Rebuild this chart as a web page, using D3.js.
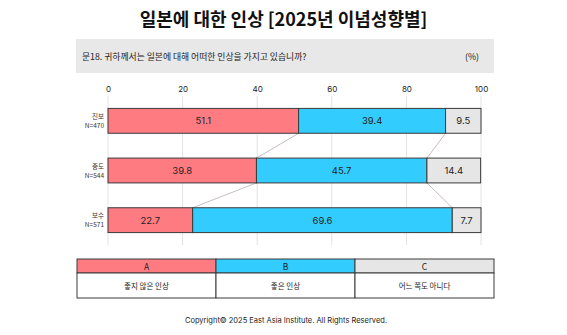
<!DOCTYPE html>
<html><head><meta charset="utf-8">
<script src="https://cdn.jsdelivr.net/npm/d3@7"></script>
<style>body{margin:0;background:#fff}svg{display:block}text{font-family:"Noto Sans CJK KR","Noto Sans",sans-serif}</style>
</head><body><svg id="c" width="567" height="335"></svg>
<script>
const groups = ["진보", "중도", "보수"];
const groupN = ["N=470", "N=544", "N=571"];
const seriesKeys = ["A", "B", "C"];
const seriesNames = ["좋지 않은 인상", "좋은 인상", "어느 쪽도 아니다"];
const seriesColors = ["#FF7B82", "#33CCFF", "#E6E6E6"];
const valA = [51.1, 39.8, 22.7];
const valB = [39.4, 45.7, 69.6];
const valC = [9.5, 14.4, 7.7];
const ticks = [0, 20, 40, 60, 80, 100];

const svg = d3.select("#c");
svg.append("text").attr("x", 283.5).attr("y", 26).attr("text-anchor", "middle")
  .attr("font-size", 18).attr("font-weight", 600).attr("fill", "#111")
  .text("일본에 대한 인상 [2025년 이념성향별]");
svg.append("rect").attr("x", 76).attr("y", 39).attr("width", 418).attr("height", 34).attr("fill", "#E8E8E8");
svg.append("text").attr("x", 82).attr("y", 59.5).attr("font-size", 8.8).attr("fill", "#222")
  .text("문18. 귀하께서는 일본에 대해 어떠한 인상을 가지고 있습니까?");
svg.append("text").attr("x", 479).attr("y", 59.5).attr("text-anchor", "end").attr("font-size", 8.8).attr("fill", "#222").text("(%)");

const x = d3.scaleLinear().domain([0, 100]).range([108, 481]);
const y = d3.scaleBand().domain(groups).range([96, 245]).paddingInner(0.5).paddingOuter(0.25);

const ax = svg.append("g").attr("transform", "translate(0,92)")
  .call(d3.axisTop(x).tickValues(ticks).tickSize(0).tickPadding(0));
ax.select(".domain").remove();
ax.selectAll("text").attr("font-size", 8).attr("fill", "#222").attr("dy", 0)
  .style("font-family", "Inter, 'Noto Sans', sans-serif");
svg.append("g").selectAll("line").data(ticks).join("line")
  .attr("x1", d => x(d)).attr("x2", d => x(d)).attr("y1", 96).attr("y2", 245)
  .attr("stroke", "#E3E3E3").attr("stroke-width", 1);

const rows = groups.map((g, i) => {
  const vals = [valA[i], valB[i], valC[i]];
  let c = 0;
  return vals.map((v, j) => { const s = {g, i, j, v, x0: c, x1: c + v}; c += v; return s; });
});

// connectors
const conn = svg.append("g");
for (let i = 0; i < groups.length - 1; i++) {
  for (let j = 0; j < 2; j++) {
    conn.append("line")
      .attr("x1", x(rows[i][j].x1)).attr("y1", y(groups[i]) + y.bandwidth())
      .attr("x2", x(rows[i + 1][j].x1)).attr("y2", y(groups[i + 1]))
      .attr("stroke", "#C8BCC4").attr("stroke-width", 1);
  }
}

const segs = rows.flat();
svg.append("g").selectAll("rect").data(segs).join("rect")
  .attr("x", d => x(d.x0)).attr("width", d => x(d.x1) - x(d.x0))
  .attr("y", d => y(d.g)).attr("height", y.bandwidth())
  .attr("fill", d => seriesColors[d.j]).attr("stroke", "#3a3a3a").attr("stroke-width", 1);
svg.append("g").selectAll("text").data(segs).join("text")
  .attr("x", d => (x(d.x0) + x(d.x1)) / 2).attr("y", d => y(d.g) + y.bandwidth() / 2 + 3.5)
  .attr("text-anchor", "middle").attr("font-size", 9.5).attr("fill", "#222")
  .style("font-family", "Inter, 'Noto Sans', sans-serif")
  .text(d => d.v.toFixed(1));

const labG = svg.append("g");
labG.selectAll("text.g").data(groups).join("text").attr("class", "g")
  .attr("text-anchor", "end").attr("font-size", 6.5).attr("fill", "#333")
  .attr("x", 104).attr("y", g => y(g) + y.bandwidth() / 2 - 2).text(g => g);
labG.selectAll("text.n").data(groupN).join("text").attr("class", "n")
  .attr("text-anchor", "end").attr("font-size", 6.5).attr("fill", "#333")
  .attr("x", 104).attr("y", (d, i) => y(groups[i]) + y.bandwidth() / 2 + 7).text(d => d);

// legend table
const lx = d3.scaleBand().domain(seriesKeys).range([77, 494]);
const leg = svg.append("g");
leg.selectAll("rect.h").data(seriesKeys).join("rect").attr("class", "h")
  .attr("x", d => lx(d)).attr("y", 259).attr("width", lx.bandwidth()).attr("height", 14)
  .attr("fill", (d, i) => seriesColors[i]).attr("stroke", "#3a3a3a").attr("stroke-width", 1);
leg.selectAll("rect.b").data(seriesKeys).join("rect").attr("class", "b")
  .attr("x", d => lx(d)).attr("y", 273).attr("width", lx.bandwidth()).attr("height", 25)
  .attr("fill", "#fff").attr("stroke", "#3a3a3a").attr("stroke-width", 1);
leg.selectAll("text.h").data(seriesKeys).join("text").attr("class", "h")
  .attr("x", d => lx(d) + lx.bandwidth() / 2).attr("y", 269.5).attr("text-anchor", "middle")
  .attr("font-size", 8.5).attr("fill", "#222").text(d => d);
leg.selectAll("text.b").data(seriesNames).join("text").attr("class", "b")
  .attr("x", (d, i) => lx(seriesKeys[i]) + lx.bandwidth() / 2).attr("y", 288.5).attr("text-anchor", "middle")
  .attr("font-size", 7.5).attr("fill", "#222").text(d => d);

svg.append("text").attr("x", 286).attr("y", 323).attr("text-anchor", "middle")
  .attr("font-size", 7.5).attr("fill", "#222").style("font-family", "Inter, 'Noto Sans', sans-serif")
  .text("Copyright© 2025 East Asia Institute. All Rights Reserved.");
</script></body></html>
